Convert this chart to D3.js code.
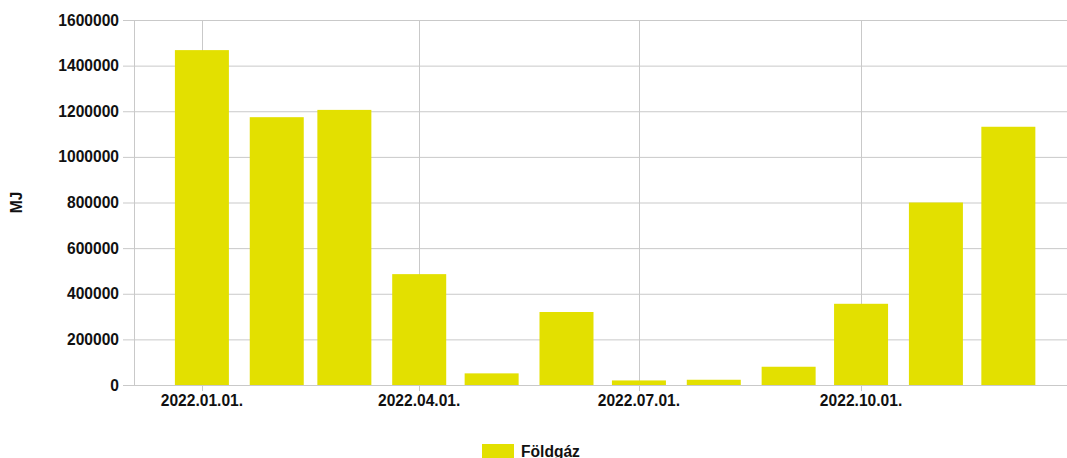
<!DOCTYPE html>
<html>
<head>
<meta charset="utf-8">
<script src="https://cdn.jsdelivr.net/npm/d3@7"></script>
<style>
  body { margin: 0; background: #fff; }
  svg { display: block; font-family: "Liberation Sans", Arial, sans-serif; }
</style>
</head>
<body>
<div id="chart"></div>
<script>
// monthly gas use, MJ
const months = ["2022-01-01","2022-02-01","2022-03-01","2022-04-01","2022-05-01","2022-06-01",
                "2022-07-01","2022-08-01","2022-09-01","2022-10-01","2022-11-01","2022-12-01"];
const gasValues = [1468000, 1174000, 1206000, 486000, 51000, 320000,
                   20000, 23000, 80000, 356000, 800000, 1132000];
const yTicks = [0, 200000, 400000, 600000, 800000, 1000000, 1200000, 1400000, 1600000];
const xTickDates = ["2022-01-01","2022-04-01","2022-07-01","2022-10-01"];
const seriesName = "Földgáz";
const yLabel = "MJ";

const width = 1067, height = 458;
const margin = {top: 20, right: 0, bottom: 73, left: 135};
const barColor = "#e3e000";
const gridColor = "#c9c9c9";

const parse = d3.utcParse("%Y-%m-%d");
const fmt = d3.utcFormat("%Y.%m.%d.");
let data = months.map((m, i) => ({date: parse(m), value: gasValues[i]}));

const svg = d3.select("#chart").append("svg")
    .attr("width", width)
    .attr("height", height);

// time axis padded by about 4 weeks each side
const x = d3.scaleUtc()
    .domain([d3.utcHour.offset(parse("2021-12-04"), 7), d3.utcHour.offset(parse("2022-12-25"), 7)])
    .range([margin.left, width - margin.right]);

const y = d3.scaleLinear()
    .domain([0, 1600000])
    .range([height - margin.bottom, margin.top]);

const barW = 54;

// horizontal grid
svg.append("g")
    .selectAll("line")
    .data(yTicks)
    .join("line")
    .attr("x1", margin.left - 12)
    .attr("x2", width)
    .attr("y1", d => y(d) + 0.5)
    .attr("y2", d => y(d) + 0.5)
    .attr("stroke", gridColor)
    .attr("stroke-width", 1);

// vertical grid
svg.append("g")
    .selectAll("line")
    .data(xTickDates.map(parse))
    .join("line")
    .attr("x1", d => Math.round(x(d)) + 0.5)
    .attr("x2", d => Math.round(x(d)) + 0.5)
    .attr("y1", margin.top)
    .attr("y2", y(0) + 6)
    .attr("stroke", gridColor);

// y axis line
svg.append("line")
    .attr("x1", margin.left - 0.5).attr("x2", margin.left - 0.5)
    .attr("y1", margin.top).attr("y2", y(0))
    .attr("stroke", gridColor);

// bars
svg.append("g")
    .selectAll("rect")
    .data(data)
    .join("rect")
    .attr("x", d => x(d.date) - barW / 2)
    .attr("width", barW)
    .attr("y", d => y(d.value))
    .attr("height", d => y(0) - y(d.value))
    .attr("fill", barColor);

// tick labels
svg.append("g")
    .selectAll("text")
    .data(yTicks)
    .join("text")
    .attr("x", margin.left - 16)
    .attr("y", d => y(d))
    .attr("dy", "0.36em")
    .attr("text-anchor", "end")
    .attr("font-size", "15.6px")
    .attr("font-weight", "bold")
    .attr("fill", "#111")
    .text(d => d);

svg.append("g")
    .selectAll("text")
    .data(xTickDates.map(parse))
    .join("text")
    .attr("x", d => x(d))
    .attr("y", y(0) + 21)
    .attr("text-anchor", "middle")
    .attr("font-size", "15.6px")
    .attr("font-weight", "bold")
    .attr("fill", "#111")
    .text(d => fmt(d));

// y axis title
svg.append("text")
    .attr("transform", `translate(22,${(margin.top + y(0)) / 2}) rotate(-90)`)
    .attr("text-anchor", "middle")
    .attr("font-size", "15.6px")
    .attr("font-weight", "bold")
    .attr("fill", "#111")
    .text(yLabel);

// legend
const legend = svg.append("g").attr("transform", "translate(482,444)");
legend.append("rect")
    .attr("width", 32)
    .attr("height", 15)
    .attr("fill", barColor);
legend.append("text")
    .attr("x", 39)
    .attr("y", 12.5)
    .attr("font-size", "15.6px")
    .attr("font-weight", "bold")
    .attr("fill", "#111")
    .text(seriesName);
</script>
</body>
</html>
